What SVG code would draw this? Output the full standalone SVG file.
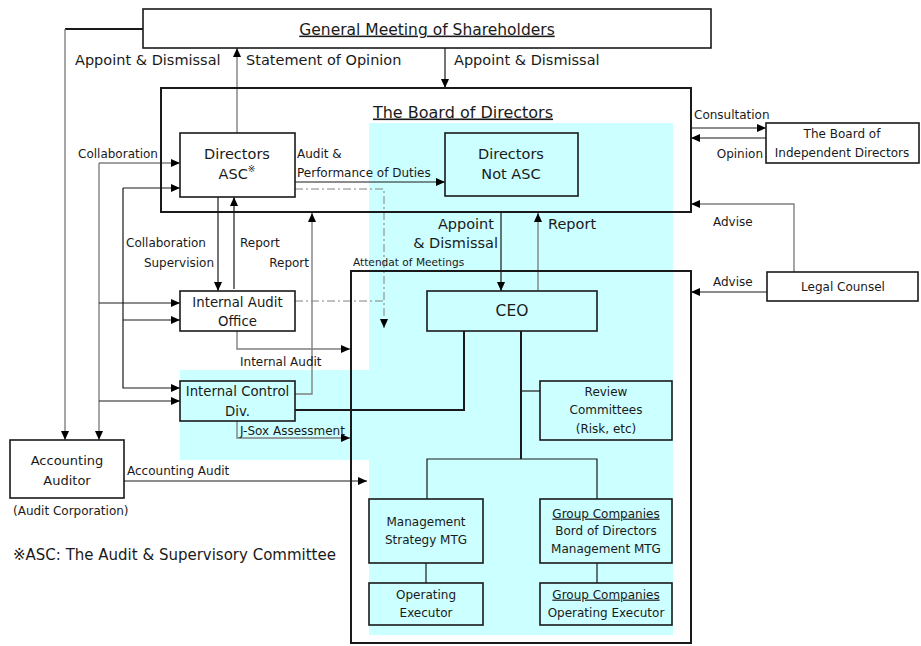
<svg xmlns="http://www.w3.org/2000/svg" width="921" height="646" viewBox="0 0 921 646">
<style>
text{font-family:"DejaVu Sans","Noto Sans CJK JP",sans-serif;fill:#1a1a1a}
.box{fill:#fff;stroke:#1a1a1a;stroke-width:1.6}
.cbox{fill:#ccffff;stroke:#1a1a1a;stroke-width:1.6}
.big{fill:none;stroke:#1a1a1a;stroke-width:2}
.c{fill:none;stroke:#1a1a1a;stroke-width:1.2}
.g{fill:none;stroke:#808080;stroke-width:1.4}
.t{fill:none;stroke:#1a1a1a;stroke-width:2}
.dd{fill:none;stroke:#808080;stroke-width:1;stroke-dasharray:8,3,2,3}
.m{text-anchor:middle}
.e{text-anchor:end}
.s145{font-size:14.5px}
.s12{font-size:12px}
.s13{font-size:13.3px}
.u{text-decoration:underline}
</style>
<defs>
<marker id="a" markerUnits="userSpaceOnUse" markerWidth="9" markerHeight="8" refX="9" refY="4" orient="auto"><path d="M0,0 L9,4 L0,8 z" fill="#000"/></marker>
</defs>
<rect width="921" height="646" fill="#fff"/>
<polygon id="cyan" points="369,123 673,123 673,635 369,635 369,460 180,460 180,370 369,370" fill="#ccffff"/>

<g id="connectors">
<path class="t" d="M143,29 H65"/>
<path class="g" d="M65,29 V440" marker-end="url(#a)"/>
<path class="g" d="M237,133 V48" marker-end="url(#a)"/>
<path class="c" d="M445,48 V88" marker-end="url(#a)"/>
<path class="c" d="M295,182 H445" marker-end="url(#a)"/>
<path class="dd" d="M295,189 H384 V328" marker-end="url(#a)"/>
<path class="dd" d="M295,301 H384"/>
<path class="c" d="M501,213 V291" marker-end="url(#a)"/>
<path class="g" d="M538,291 V213" marker-end="url(#a)"/>
<path class="c" d="M218,197 V291" marker-end="url(#a)"/>
<path class="c" d="M234,289 V197" marker-end="url(#a)"/>
<path class="g" d="M295,394 H312 V213" marker-end="url(#a)"/>
<path class="g" d="M237,331 V349 H350" marker-end="url(#a)"/>
<path class="g" d="M237,421 V438 H350" marker-end="url(#a)"/>
<path class="c" d="M124,481 H367" marker-end="url(#a)"/>
<path class="g" d="M99,163 V440" marker-end="url(#a)"/>
<path class="g" d="M99,163 H180" marker-end="url(#a)"/>
<path class="c" d="M99,303 H180" marker-end="url(#a)"/>
<path class="c" d="M99,401 H180" marker-end="url(#a)"/>
<path class="c" d="M123,188 H180" marker-end="url(#a)"/>
<path class="c" d="M123,188 V388 H180" marker-end="url(#a)"/>
<path class="c" d="M123,320 H180" marker-end="url(#a)"/>
<path class="t" d="M464,331 V410 H295"/>
<path class="t" d="M521,331 V459"/>
<path class="c" d="M427,499 V459 H597 V499"/>
<path class="c" d="M521,391 H540"/>
<path class="c" d="M426,563 V583"/>
<path class="c" d="M597,563 V583"/>
<path class="c" d="M691,128 H766" marker-end="url(#a)"/>
<path class="c" d="M766,138 H691" marker-end="url(#a)"/>
<path class="g" d="M794,272 V204 H691" marker-end="url(#a)"/>
<path class="c" d="M767,292 H691" marker-end="url(#a)"/>
</g>

<g id="general-meeting"><rect class="box" x="143" y="9" width="568" height="39"/><text class="m u" x="427" y="34.6" font-size="15.5">General Meeting of Shareholders</text></g>
<g id="board"><rect class="big" x="161" y="88" width="530" height="124"/><text class="m u" x="463" y="117.5" font-size="16">The Board of Directors</text></g>
<g id="exec-area"><rect class="big" x="351" y="271" width="340" height="372"/></g>
<g id="directors-asc"><rect class="box" x="180" y="133" width="115" height="64"/><text class="m s145" x="237" y="158.6">Directors</text><text class="m s145" x="237" y="179.3">ASC<tspan font-size="9" dy="-7">※</tspan></text></g>
<g id="directors-not-asc"><rect class="cbox" x="445" y="133" width="133" height="63"/><text class="m s145" x="511" y="158.6">Directors</text><text class="m s145" x="511" y="178.6">Not ASC</text></g>
<g id="independent"><rect class="box" x="766" y="123" width="153" height="40"/><text class="m s12" x="842" y="137.7">The Board of</text><text class="m s12" x="842" y="156.7">Independent Directors</text></g>
<g id="legal"><rect class="box" x="767" y="272" width="151" height="29"/><text class="m s12" x="843" y="291">Legal Counsel</text></g>
<g id="ceo"><rect class="cbox" x="427" y="291" width="170" height="40"/><text class="m" x="512" y="316.3" font-size="15.5">CEO</text></g>
<g id="internal-audit-office"><rect class="box" x="180" y="291" width="115" height="40"/><text class="m s13" x="237.5" y="306.5">Internal Audit</text><text class="m s13" x="237.5" y="325.5">Office</text></g>
<g id="internal-control"><rect class="cbox" x="180" y="381" width="115" height="40"/><text class="m s13" x="237.5" y="395.8">Internal Control</text><text class="m s13" x="237.5" y="415.5">Div.</text></g>
<g id="review"><rect class="cbox" x="540" y="381" width="132" height="59"/><text class="m s12" x="606" y="396">Review</text><text class="m s12" x="606" y="414.3">Committees</text><text class="m s12" x="606" y="432.6">(Risk, etc)</text></g>
<g id="accounting-auditor"><rect class="box" x="10" y="440" width="114" height="58"/><text class="m" x="67" y="465.4" font-size="13">Accounting</text><text class="m" x="67" y="484.7" font-size="13">Auditor</text></g>
<g id="mgmt"><rect class="cbox" x="369" y="499" width="114" height="64"/><text class="m s12" x="426" y="526">Management</text><text class="m s12" x="426" y="544.3">Strategy MTG</text></g>
<g id="group"><rect class="cbox" x="540" y="499" width="132" height="64"/><text class="m s12 u" x="606" y="517.6">Group Companies</text><text class="m s12" x="606" y="535">Bord of Directors</text><text class="m s12" x="606" y="553.3">Management MTG</text></g>
<g id="op-exec"><rect class="cbox" x="369" y="583" width="114" height="42"/><text class="m s12" x="426" y="598.6">Operating</text><text class="m s12" x="426" y="617">Executor</text></g>
<g id="group-op-exec"><rect class="cbox" x="540" y="583" width="132" height="42"/><text class="m s12 u" x="606" y="598.6">Group Companies</text><text class="m s12" x="606" y="617">Operating Executor</text></g>

<g id="labels">
<text class="s145" x="75" y="65.2">Appoint &amp; Dismissal</text>
<text class="s145" x="246" y="65.2">Statement of Opinion</text>
<text class="s145" x="454" y="65.2">Appoint &amp; Dismissal</text>
<text class="s12" x="78" y="157.7">Collaboration</text>
<text class="s12" x="297" y="158.4">Audit &amp;</text>
<text class="s12" x="297" y="177">Performance of Duties</text>
<text class="s12" x="694" y="118.5">Consultation</text>
<text class="s12 e" x="763" y="157.7">Opinion</text>
<text class="s12" x="713" y="226">Advise</text>
<text class="s12" x="713" y="286">Advise</text>
<text class="s12" x="126" y="247">Collaboration</text>
<text class="s12 e" x="214" y="266.6">Supervision</text>
<text class="s12" x="240" y="247">Report</text>
<text class="s12 e" x="309" y="266.6">Report</text>
<text x="353" y="265.5" font-size="10.6">Attendat of Meetings</text>
<text class="s145 e" x="494" y="228.5">Appoint</text>
<text class="s145 e" x="498" y="247.5">&amp; Dismissal</text>
<text class="s145" x="548" y="228.5">Report</text>
<text class="s12" x="240" y="366">Internal Audit</text>
<text class="s12" x="240" y="435">J-Sox Assessment</text>
<text class="s12" x="127" y="475">Accounting Audit</text>
<text class="s12" x="13" y="515.3">(Audit Corporation)</text>
<text x="13" y="559.5" font-size="15">※ASC: The Audit &amp; Supervisory Committee</text>
</g>
</svg>
